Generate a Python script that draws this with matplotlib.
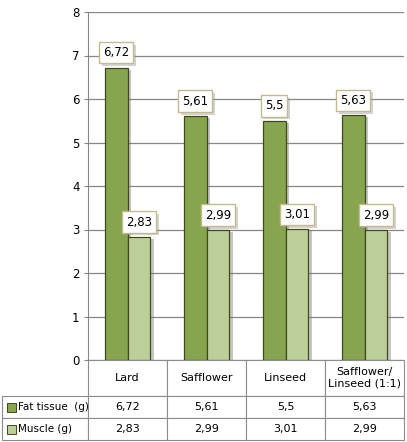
import matplotlib
matplotlib.use("Agg")
import matplotlib.pyplot as plt
import matplotlib.patheffects as pe
from matplotlib.patches import Rectangle
import numpy as np

# data
categories = ["Lard", "Safflower", "Linseed", "Safflower/\nLinseed (1:1)"]
fat_tissue = [6.72, 5.61, 5.5, 5.63]
muscle = [2.83, 2.99, 3.01, 2.99]
series_names = ["Fat tissue  (g)", "Muscle (g)"]
fat_color = "#87A44E"
muscle_color = "#BDCF98"

plt.rcParams["font.family"] = "DejaVu Sans"

W, H = 407, 442
fig = plt.figure(figsize=(W / 100, H / 100), dpi=100)
# axes box in pixels: left 88, right 404, top 12, bottom 360
ax = fig.add_axes([88 / W, (H - 360) / H, 316 / W, 348 / H])

x = np.arange(len(categories))
bw = 0.29
shadow = [pe.SimplePatchShadow(offset=(2.5, -1.5), shadow_rgbFace="#808080", alpha=0.45), pe.Normal()]
b1 = ax.bar(x - bw / 2, fat_tissue, bw, color=fat_color, edgecolor="#3F4A1E",
            linewidth=0.9, zorder=3, path_effects=shadow)
b2 = ax.bar(x + bw / 2, muscle, bw, color=muscle_color, edgecolor="#3F4A1E",
            linewidth=0.9, zorder=3, path_effects=shadow)

box = dict(boxstyle="square,pad=0.35", fc="white", ec="#C4B98C", lw=1.0)
box_shadow = [pe.withSimplePatchShadow(offset=(2, -2), shadow_rgbFace="#909090", alpha=0.4)]
for bars in (b1, b2):
    for rect in bars:
        v = rect.get_height()
        t = ax.annotate(f"{v:g}".replace(".", ","),
                        (rect.get_x() + rect.get_width() / 2, v),
                        xytext=(0, 6), textcoords="offset points",
                        ha="center", va="bottom", fontsize=8.5, zorder=5,
                        bbox=box)
        t.get_bbox_patch().set_path_effects(box_shadow)

ax.set_xlim(-0.5, len(categories) - 0.5)
ax.set_ylim(0, 8)
ax.set_yticks(range(0, 9))
ax.set_xticks([])
ax.tick_params(axis="y", length=3, width=0.8, color="#868686", pad=3, labelsize=8.5)
ax.yaxis.grid(True, color="#868686", lw=0.9, zorder=0)
ax.set_axisbelow(True)
for s in ("top", "right", "bottom"):
    ax.spines[s].set_visible(False)
ax.spines["left"].set_color("#868686")

# data table under the chart; first column holds the series names
cell_text = [[name] + [f"{v:g}".replace(".", ",") for v in vals]
             for name, vals in zip(series_names, (fat_tissue, muscle))]
tbl = ax.table(cellText=cell_text, colLabels=[""] + categories,
               cellLoc="center",
               bbox=[(2 - 88) / 316, (360 - 440) / 348, 402 / 316, 80 / 348])
tbl.auto_set_font_size(False)
tbl.set_fontsize(8)
for (r, c), cell in tbl.get_celld().items():
    cell.set_edgecolor("#8C8C8C")
    cell.set_linewidth(0.8)
    cell.set_width(86 if c == 0 else 79)
    cell.set_height(36 if r == 0 else 22)
    if c == 0:
        if r == 0:
            cell.visible_edges = ""
        else:
            cell.get_text().set_ha("left")
            cell.get_text().set_fontsize(7.5)
            cell.PAD = 0.19

# legend swatches in the row label cells
for i, col in enumerate([fat_color, muscle_color]):
    y_bottom = 412 + 22 * i
    fig.patches.append(Rectangle((7 / W, (H - y_bottom) / H), 9 / W, 9 / H,
                                 facecolor=col, edgecolor="#3F4A1E", lw=0.7,
                                 transform=fig.transFigure, figure=fig))

fig.savefig("out.png", dpi=100, facecolor="white")
